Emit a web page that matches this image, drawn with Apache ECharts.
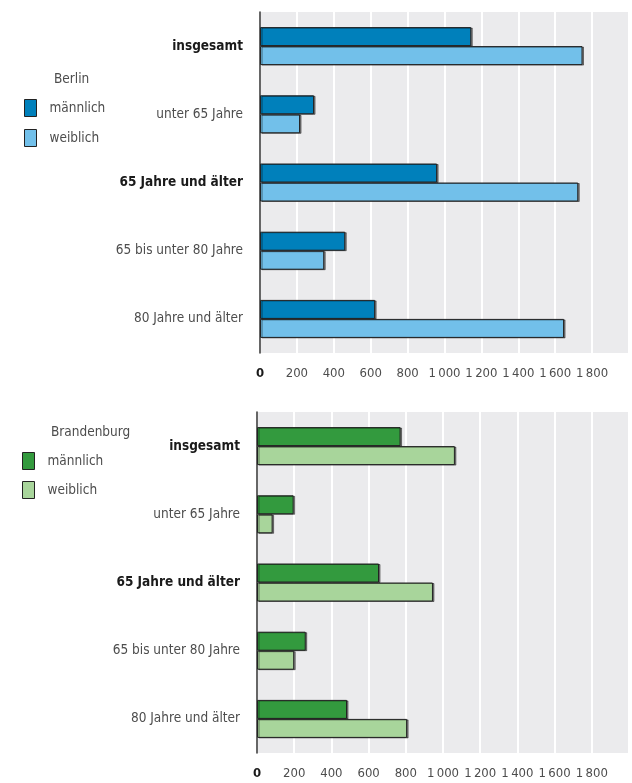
<!DOCTYPE html>
<html>
<head>
<meta charset="utf-8">
<script src="https://cdn.jsdelivr.net/npm/echarts@6/dist/echarts.min.js"></script>
<style>
html,body{margin:0;padding:0;background:#fff;}
#chart{width:632px;height:783px;}
</style>
</head>
<body>
<div id="chart"></div>
<script>
const categories = ['insgesamt', 'unter 65 Jahre', '65 Jahre und älter', '65 bis unter 80 Jahre', '80 Jahre und älter'];
const boldCategories = ['insgesamt', '65 Jahre und älter'];
const berlinMale = [1145, 293, 960, 462, 624];
const berlinFemale = [1748, 217, 1725, 348, 1648];
const brbMale = [772, 197, 656, 262, 484];
const brbFemale = [1064, 84, 946, 200, 807];
const xTickLabels = ['0', '200', '400', '600', '800', '1\u2009000', '1\u2009200', '1\u2009400', '1\u2009600', '1\u2009800'];
const legendNames = ['männlich', 'weiblich'];

const FONT = '"DejaVu Sans Condensed", "Liberation Sans Narrow", sans-serif';
const FS = 13.5;
const GREY = '#4d4d4d';
const DARK = '#1a1a1a';

const chart = echarts.init(document.getElementById('chart'));

function xAxisDef(gridIndex) {
  return {
    type: 'value', gridIndex: gridIndex, min: 0, max: 2000, interval: 200,
    axisLine: {show: false}, axisTick: {show: false},
    splitLine: {show: true, lineStyle: {color: '#ffffff', width: 2}},
    axisLabel: {
      margin: 14, fontFamily: FONT, fontSize: 13, color: GREY,
      formatter: function (v) {
        const i = Math.round(v / 200);
        if (i >= xTickLabels.length) return '';
        return i === 0 ? '{b|' + xTickLabels[i] + '}' : xTickLabels[i];
      },
      rich: {b: {fontWeight: 'bold', color: DARK, fontFamily: FONT, fontSize: 13}}
    }
  };
}
function yAxisDef(gridIndex) {
  return {
    type: 'category', gridIndex: gridIndex, data: categories, inverse: true,
    axisLine: {show: true, lineStyle: {color: '#333', width: 1.5}},
    axisTick: {show: false},
    axisLabel: {
      margin: 17, fontFamily: FONT, fontSize: FS, color: GREY,
      formatter: function (v) {
        return boldCategories.indexOf(v) >= 0 ? '{b|' + v + '}' : '{n|' + v + '}';
      },
      rich: {
        b: {fontWeight: 'bold', color: DARK, fontFamily: FONT, fontSize: FS},
        n: {color: GREY, fontFamily: FONT, fontSize: FS}
      }
    }
  };
}
function barSeries(name, data, color, idx) {
  return {
    type: 'bar', name: name, data: data, xAxisIndex: idx, yAxisIndex: idx,
    barWidth: 19, barGap: '0%',
    itemStyle: {color: color, borderColor: '#222', borderWidth: 1,
      shadowColor: 'rgba(0,0,0,0.45)', shadowOffsetX: 1.5, shadowOffsetY: 0.5, shadowBlur: 0},
    emphasis: {disabled: true}, animation: false
  };
}
function legendDef(left, top, gap, names, prefix) {
  return {
    orient: 'vertical', left: left, top: top, icon: 'rect',
    itemWidth: 12, itemHeight: 17, itemGap: gap, data: names,
    selectedMode: false,
    formatter: function (n) { return n.replace(prefix, ''); },
    itemStyle: {borderColor: '#222', borderWidth: 1, shadowBlur: 0, shadowOffsetX: 0, shadowOffsetY: 0},
    textStyle: {fontFamily: FONT, fontSize: FS, color: GREY, padding: [0, 0, 0, 8], lineHeight: 17}
  };
}

chart.setOption({
  backgroundColor: '#ffffff',
  animation: false,
  title: [
    {text: 'Berlin', left: 49, top: 67, textStyle: {fontFamily: FONT, fontSize: FS, fontWeight: 'normal', color: GREY}},
    {text: 'Brandenburg', left: 46, top: 420, textStyle: {fontFamily: FONT, fontSize: FS, fontWeight: 'normal', color: GREY}}
  ],
  legend: [
    legendDef(19, 94, 12, ['Berlin ' + legendNames[0], 'Berlin ' + legendNames[1]], 'Berlin '),
    legendDef(17, 447, 11, ['Brandenburg ' + legendNames[0], 'Brandenburg ' + legendNames[1]], 'Brandenburg ')
  ],
  grid: [
    {left: 260, top: 12, height: 341, right: -6, show: true, backgroundColor: '#ebebed', borderWidth: 0},
    {left: 257, top: 412, height: 341, right: -5, show: true, backgroundColor: '#ebebed', borderWidth: 0}
  ],
  xAxis: [xAxisDef(0), xAxisDef(1)],
  yAxis: [yAxisDef(0), yAxisDef(1)],
  series: [
    barSeries('Berlin ' + legendNames[0], berlinMale, '#0080bb', 0),
    barSeries('Berlin ' + legendNames[1], berlinFemale, '#72c0ea', 0),
    barSeries('Brandenburg ' + legendNames[0], brbMale, '#339a3e', 1),
    barSeries('Brandenburg ' + legendNames[1], brbFemale, '#a8d59b', 1)
  ]
});
</script>
</body>
</html>
